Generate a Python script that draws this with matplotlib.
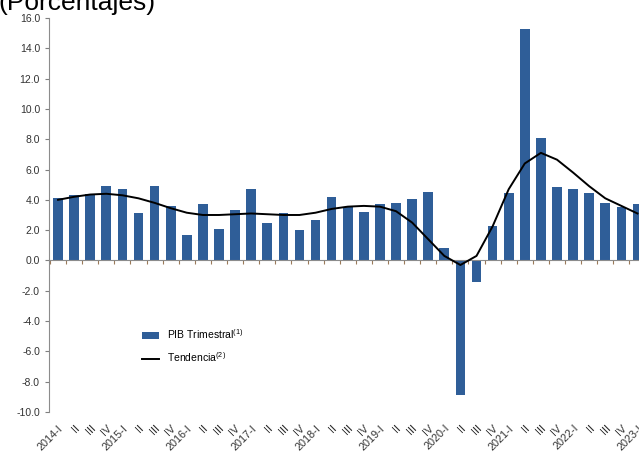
import matplotlib.pyplot as plt

plt.rcParams['font.family'] = ['Liberation Sans', 'DejaVu Sans']
plt.rcParams['mathtext.fontset'] = 'custom'
plt.rcParams['mathtext.rm'] = 'Liberation Sans'

# etiquetas trimestrales
quarter_labels = []
for year in range(2014, 2024):
    for q in ['I', 'II', 'III', 'IV']:
        quarter_labels.append(f'{year}-I' if q == 'I' else q)
quarter_labels = quarter_labels[:37]

# PIB trimestral (%)
pib = [4.1, 4.3, 4.4, 4.9, 4.7, 3.1, 4.9, 3.6,
       1.7, 3.7, 2.1, 3.3, 4.7, 2.5, 3.1, 2.0,
       2.7, 4.2, 3.5, 3.2, 3.75, 3.8, 4.05, 4.5,
       0.8, -8.9, -1.4, 2.3, 4.45, 15.3, 8.1, 4.85,
       4.7, 4.45, 3.8, 3.5, 3.7]

# tendencia (%)
tendencia = [4.0, 4.2, 4.35, 4.4, 4.3, 4.1, 3.8, 3.45,
             3.15, 3.0, 3.0, 3.05, 3.1, 3.05, 3.0, 3.0,
             3.15, 3.4, 3.55, 3.6, 3.55, 3.25, 2.5, 1.4,
             0.3, -0.3, 0.3, 2.25, 4.7, 6.4, 7.1, 6.65,
             5.8, 4.9, 4.1, 3.6, 3.1]

x = list(range(len(pib)))

fig = plt.figure(figsize=(6.39, 4.55), dpi=100)
ax = fig.add_axes([0.0767, 0.0945, 0.935, 0.866])

barras = ax.bar(x, pib, width=0.6, color='#2F5E98', label='PIB Trimestral$^{(1)}$', zorder=2)
linea, = ax.plot(x, tendencia, color='black', lw=1.4, label='Tendencia$^{(2)}$', zorder=3)

ax.set_xlim(-0.56, 36.56)
ax.set_ylim(-10, 16)
ax.set_yticks(range(-10, 17, 2))
ax.set_yticklabels([f'{v:.1f}' for v in range(-10, 17, 2)])
ax.tick_params(axis='y', labelsize=7.5, colors='#7f7f7f', labelcolor='#333333',
               length=3, width=0.8)

for s in ['top', 'right']:
    ax.spines[s].set_visible(False)
ax.spines['left'].set_color('#8c8c8c')
ax.spines['bottom'].set_position(('data', 0))
ax.spines['bottom'].set_color('#8c8c8c')

# marcas entre barras en el eje cero
ax.set_xticks([i + 0.5 for i in x[:-1]] + [-0.5])
ax.set_xticklabels([])
ax.tick_params(axis='x', length=3, width=0.8, colors='#9a7a5a', direction='out')

# etiquetas abajo
sec = ax.secondary_xaxis(0.0)
sec.set_xticks(x)
sec.set_xticklabels(quarter_labels, rotation=45, ha='right', rotation_mode='anchor',
                    fontsize=7.8, color='#333333')
sec.tick_params(length=0, pad=8)
sec.spines['bottom'].set_visible(False)

ax.legend(handles=[barras, linea], loc='upper left',
          bbox_to_anchor=(133 / 639, 1 - 318 / 455),
          bbox_transform=fig.transFigure, frameon=False, fontsize=7.5,
          handlelength=1.6, handleheight=0.6, labelspacing=0.9)

fig.text(-0.002, 1 - 10 / 455, '(Porcentajes)', fontsize=19, va='baseline', ha='left')

fig.savefig('out.png', dpi=100)
